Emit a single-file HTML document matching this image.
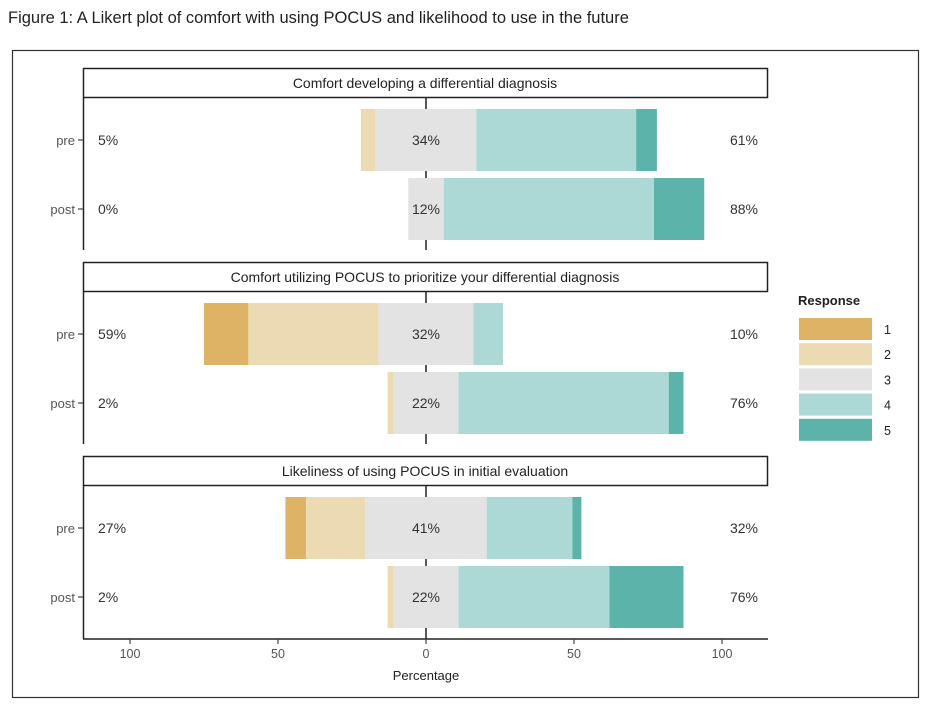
<!DOCTYPE html>
<html><head><meta charset="utf-8"><style>
body{margin:0;background:#fff;width:930px;height:709px;overflow:hidden;font-family:"Liberation Sans",sans-serif}
svg text{font-family:"Liberation Sans",sans-serif}
</style></head><body>
<svg id="chart" width="930" height="709">
<text x="8" y="23" font-size="16.5" fill="#222">Figure 1: A Likert plot of comfort with using POCUS and likelihood to use in the future</text>
<rect x="12.5" y="50.5" width="906" height="647" fill="none" stroke="#333" stroke-width="1.2"/>
<g id="panels"></g>
<g id="legend"></g>
</svg>
<script>
const titles=["Comfort developing a differential diagnosis","Comfort utilizing POCUS to prioritize your differential diagnosis","Likeliness of using POCUS in initial evaluation"];
const groups=["pre","post"];
// rows: panel1 pre, panel1 post, panel2 pre, panel2 post, panel3 pre, panel3 post
const resp1=[0,0,15,0,7,0];
const resp2=[5,0,44,2,20,2];
const resp3=[34,12,32,22,41,22];
const resp4=[54,71,10,71,29,51];
const resp5=[7,17,0,5,3,25];
const lowLabels=["5%","0%","59%","2%","27%","2%"];
const midLabels=["34%","12%","32%","22%","41%","22%"];
const highLabels=["61%","88%","10%","76%","32%","76%"];
const xTicks=[-100,-50,0,50,100];
const tickLabels=["100","50","0","50","100"];
const legendLevels=["1","2","3","4","5"];
const colors=["#dfb365","#ecdab2","#e3e3e3","#acd9d5","#5cb3a9"];
const NS="http://www.w3.org/2000/svg";
const x=v=>426+v*2.96;
const panelTop=[68,262,456];
function mk(tag,attrs,parent){const e=document.createElementNS(NS,tag);for(const k in attrs)e.setAttribute(k,attrs[k]);parent.appendChild(e);return e;}
const P=document.getElementById('panels');
titles.forEach((t,p)=>{
  const top=panelTop[p];
  const g=mk('g',{},P);
  
  
  const sr=mk('rect',{x:83.5,y:top+0.5,width:684,height:29,fill:'#fff',stroke:'#222','stroke-width':1.5},g);
  
  
  const st=mk('text',{x:425,y:top+20,'text-anchor':'middle','font-size':14,fill:'#222'},g);st.textContent=t;
  
  
  const bot=p===2?639:top+182;
  const ax=mk('line',{x1:83.5,y1:top+29,x2:83.5,y2:bot,stroke:'#222','stroke-width':1.5},g);
  
  
  const zl=mk('line',{x1:x(0),y1:top+29,x2:x(0),y2:bot,stroke:'#222','stroke-width':1.5},g);
  
  
  groups.forEach((gr,i)=>{
    const r=p*2+i;
    const yc=top+72+i*69, y0=yc-31, h=62;
    const vals=[resp1[r],resp2[r],resp3[r],resp4[r],resp5[r]];
    let cur=-vals[2]/2-vals[1]-vals[0];
    vals.forEach((v,k)=>{
      if(v>0){const b=mk('rect',{x:x(cur),y:y0,width:v*2.96,height:h,fill:colors[k]},g);
      
      }
      cur+=v;
    });
    const tk=mk('line',{x1:78,y1:yc,x2:83,y2:yc,stroke:'#444','stroke-width':1.2},g);
    
    
    const yl=mk('text',{x:75,y:yc+5,'text-anchor':'end','font-size':13,fill:'#555'},g);yl.textContent=gr;
    
    
    const l1=mk('text',{x:98,y:yc+5,'font-size':14,fill:'#333'},g);l1.textContent=lowLabels[r];
    
    
    const l2=mk('text',{x:426,y:yc+5,'text-anchor':'middle','font-size':14,fill:'#333'},g);l2.textContent=midLabels[r];
    
    
    const l3=mk('text',{x:744,y:yc+5,'text-anchor':'middle','font-size':14,fill:'#333'},g);l3.textContent=highLabels[r];
    
    
  });
});
const xa=mk('line',{x1:83,y1:639,x2:768,y2:639,stroke:'#222','stroke-width':1.5},P);


xTicks.forEach((v,i)=>{
  const t=mk('line',{x1:x(v),y1:639,x2:x(v),y2:644,stroke:'#444','stroke-width':1.2},P);
  
  
  const l=mk('text',{x:x(v),y:658,'text-anchor':'middle','font-size':12.5,fill:'#555'},P);l.textContent=tickLabels[i];
  
  
});
const xt=mk('text',{x:426,y:680,'text-anchor':'middle','font-size':13,fill:'#222'},P);xt.textContent="Percentage";


const L=document.getElementById('legend');
const lt=mk('text',{x:798,y:305,'font-size':13,'font-weight':'bold',fill:'#222'},L);lt.textContent="Response";


legendLevels.forEach((lv,i)=>{
  const y=318+i*25.2;
  const r=mk('rect',{x:799,y:y,width:73,height:22,fill:colors[i]},L);
  
  
  const t=mk('text',{x:884,y:y+16,'font-size':12.5,fill:'#222'},L);t.textContent=lv;
  
  
});
</script>
</body></html>
